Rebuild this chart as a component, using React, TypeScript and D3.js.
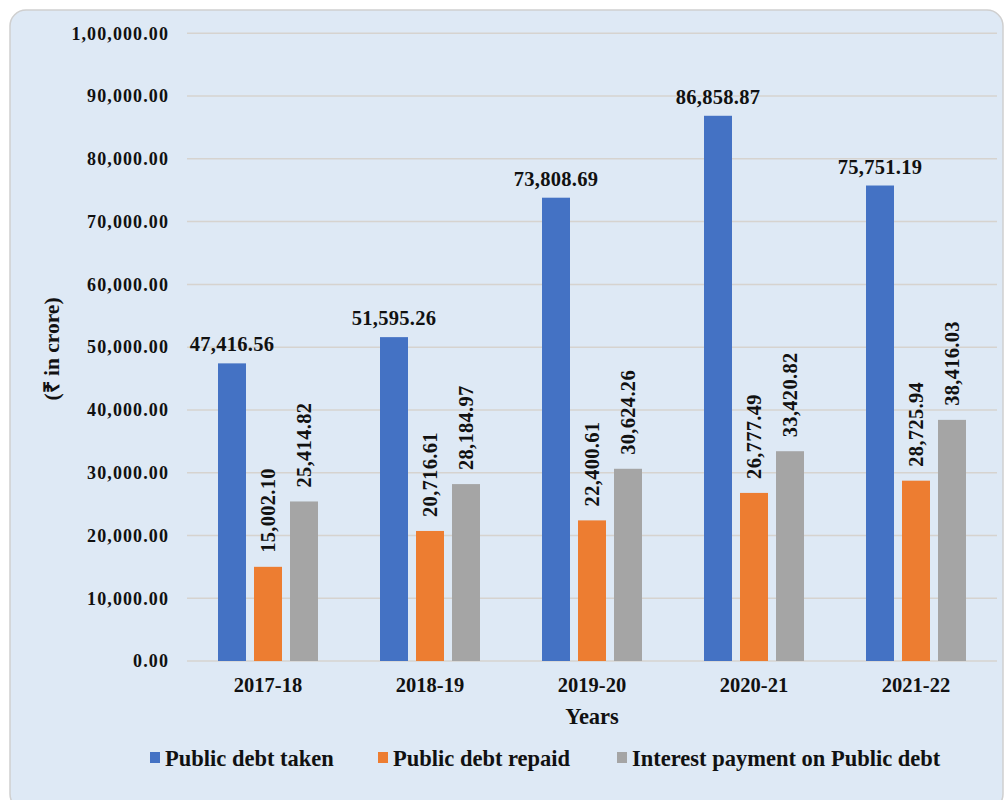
import React from "react";
import * as d3 from "d3";

const years = ["2017-18", "2018-19", "2019-20", "2020-21", "2021-22"];
const debtTaken = [47416.56, 51595.26, 73808.69, 86858.87, 75751.19];
const debtRepaid = [15002.1, 20716.61, 22400.61, 26777.49, 28725.94];
const interestPaid = [25414.82, 28184.97, 30624.26, 33420.82, 38416.03];
const seriesNames = ["Public debt taken", "Public debt repaid", "Interest payment on Public debt"];
const colors = ["#4472C4", "#ED7D31", "#A5A5A5"];
const yTicks = [0, 10000, 20000, 30000, 40000, 50000, 60000, 70000, 80000, 90000, 100000];

function indianFormat(v: number): string {
  const [intPart, dec] = v.toFixed(2).split(".");
  let s = intPart;
  if (s.length > 3) {
    const last3 = s.slice(-3);
    let rest = s.slice(0, -3);
    const groups: string[] = [];
    while (rest.length > 2) {
      groups.unshift(rest.slice(-2));
      rest = rest.slice(0, -2);
    }
    if (rest.length) groups.unshift(rest);
    s = groups.join(",") + "," + last3;
  }
  return s + "." + dec;
}

export default function App() {
  const W = 1008, H = 800;
  const plotLeft = 187, plotRight = 997, plotTop = 33.3, plotBottom = 661;
  const series = [debtTaken, debtRepaid, interestPaid];
  const x = d3.scaleBand<string>().domain(years).range([plotLeft, plotRight]).paddingInner(0).paddingOuter(0);
  const y = d3.scaleLinear().domain([0, 100000]).range([plotBottom, plotTop]);
  const barW = 28, gap = 8;
  const groupW = barW * 3 + gap * 2;
  const font = "'Liberation Serif', 'Times New Roman', serif";
  const fmt = d3.format(",.2f");

  const legendX = [150, 378, 617];

  return (
    <svg width={W} height={H} style={{ position: "absolute", left: 0, top: 0 }} fontFamily={font}>
      <rect x={10} y={10} width={993} height={800} rx={16} ry={16} fill="#DEE9F5" stroke="#CFCFCF" strokeWidth={1.5} />
      {yTicks.map((t) => (
        <g key={t}>
          <line x1={plotLeft} x2={plotRight} y1={y(t)} y2={y(t)} stroke="#D6D3CF" strokeWidth={1.5} />
          <text x={169} y={y(t)} dy="0.35em" textAnchor="end" fontSize={18} letterSpacing={1.1} fontWeight="bold" fill="#111">
            {indianFormat(t)}
          </text>
        </g>
      ))}
      {years.map((yr, i) => {
        const gx = (x(yr) as number) + (x.bandwidth() - groupW) / 2;
        return (
          <g key={yr}>
            {series.map((s, j) => {
              const bx = gx + j * (barW + gap);
              const top = y(s[i]);
              return (
                <g key={j}>
                  <rect x={bx} y={top} width={barW} height={plotBottom - top} fill={colors[j]} />
                  {j === 0 ? (
                    <text x={bx + barW / 2} y={top - 12} textAnchor="middle" fontSize={20.5} letterSpacing={0.3} fontWeight="bold" fill="#111">
                      {fmt(s[i])}
                    </text>
                  ) : (
                    <text
                      transform={`translate(${bx + barW / 2 + 7},${top - 14}) rotate(-90)`}
                      textAnchor="start"
                      fontSize={20.5}
                      letterSpacing={0.3}
                      fontWeight="bold"
                      fill="#111"
                    >
                      {fmt(s[i])}
                    </text>
                  )}
                </g>
              );
            })}
            <text x={(x(yr) as number) + x.bandwidth() / 2} y={692} textAnchor="middle" fontSize={20.5} fontWeight="bold" fill="#111">
              {yr}
            </text>
          </g>
        );
      })}
      <text x={(plotLeft + plotRight) / 2} y={724} textAnchor="middle" fontSize={22.5} fontWeight="bold" fill="#111">
        Years
      </text>
      <text transform={`translate(59,349) rotate(-90)`} textAnchor="middle" fontSize={21.5} fontWeight="bold" fill="#111">
        (₹ in crore)
      </text>
      {seriesNames.map((n, j) => (
        <g key={n}>
          <rect x={legendX[j]} y={752} width={10} height={11} fill={colors[j]} />
          <text x={legendX[j] + 15} y={766} fontSize={22.5} fontWeight="bold" fill="#111">
            {n}
          </text>
        </g>
      ))}
    </svg>
  );
}
